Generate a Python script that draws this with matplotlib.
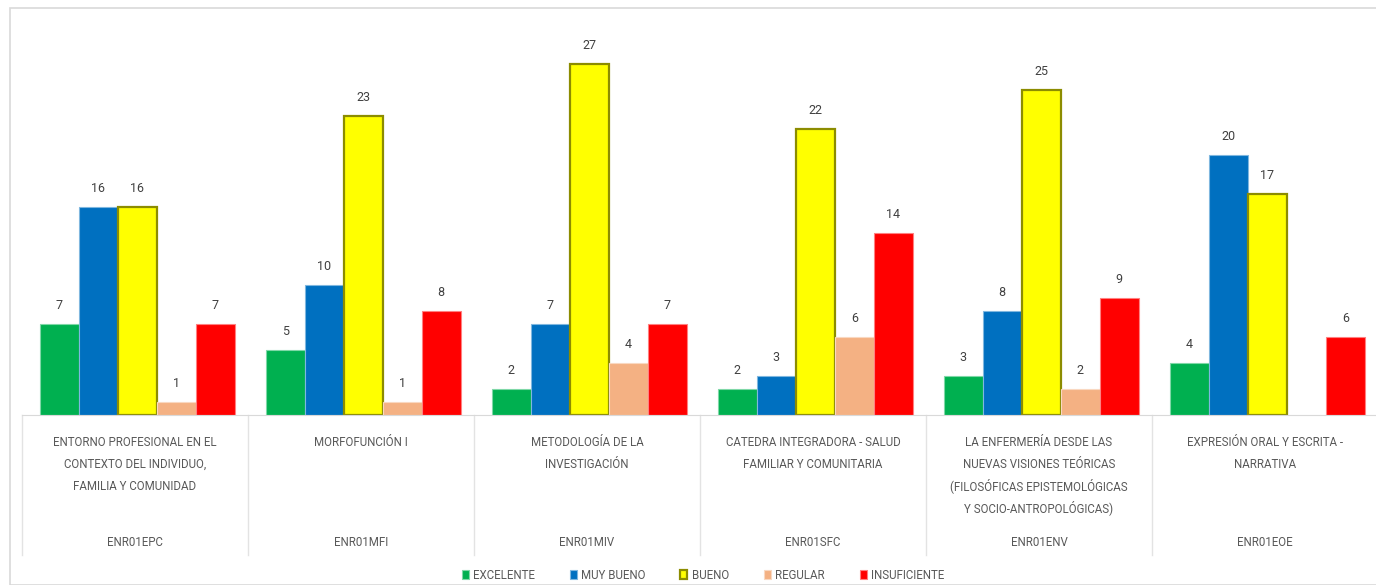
import numpy as np
import matplotlib.pyplot as plt
from matplotlib.patches import Rectangle

plt.rcParams['font.family'] = ['Roboto', 'DejaVu Sans']

cursos = ['ENTORNO PROFESIONAL EN EL\nCONTEXTO DEL INDIVIDUO,\nFAMILIA Y COMUNIDAD',
          'MORFOFUNCIÓN I',
          'METODOLOGÍA DE LA\nINVESTIGACIÓN',
          'CATEDRA INTEGRADORA - SALUD\nFAMILIAR Y COMUNITARIA',
          'LA ENFERMERÍA DESDE LAS\nNUEVAS VISIONES TEÓRICAS\n(FILOSÓFICAS EPISTEMOLÓGICAS\nY SOCIO-ANTROPOLÓGICAS)',
          'EXPRESIÓN ORAL Y ESCRITA -\nNARRATIVA']
codigos = ['ENR01EPC', 'ENR01MFI', 'ENR01MIV', 'ENR01SFC', 'ENR01ENV', 'ENR01EOE']

series = ['EXCELENTE', 'MUY BUENO', 'BUENO', 'REGULAR', 'INSUFICIENTE']
excelente = [7, 5, 2, 2, 3, 4]
muy_bueno = [16, 10, 7, 3, 8, 20]
bueno = [16, 23, 27, 22, 25, 17]
regular = [1, 1, 4, 6, 2, None]
insuficiente = [7, 8, 7, 14, 9, 6]

colores = ['#00B050', '#0070C0', '#FFFF00', '#F4B183', '#FF0000']
bordes = ['#7fd8a7', '#7fb7df', '#8c8c00', '#f9d8c1', '#ff8080']

fig = plt.figure(figsize=(13.76, 5.85), dpi=100)
ax = fig.add_axes([22 / 1376, 170 / 585, 1356 / 1376, 390 / 585])

# borde del grafico
fig.patches.append(Rectangle((10 / 1376, 0), 1.0, 577 / 585, transform=fig.transFigure,
                             fill=False, edgecolor='#d9d9d9', linewidth=1.2))

x = np.arange(len(cursos))
w = 0.1726
datos = [excelente, muy_bueno, bueno, regular, insuficiente]
for i, (nombre, vals) in enumerate(zip(series, datos)):
    v = np.array([np.nan if a is None else a for a in vals], dtype=float)
    pos = x + (i - 2) * w + 0.01
    lw = 1.6 if nombre == 'BUENO' else 0.8
    ax.bar(pos, v, width=w, color=colores[i], edgecolor=bordes[i], linewidth=lw, label=nombre)
    for px, val in zip(pos, vals):
        if val is None:
            continue
        ax.text(px, val + 0.9, str(val), ha='center', va='bottom', fontsize=9, color='#404040')

ax.set_xlim(-0.5, len(cursos) - 0.5)
ax.set_ylim(0, 30)
ax.set_yticks([])
ax.set_xticks([])
for s in ['top', 'right', 'left']:
    ax.spines[s].set_visible(False)
ax.spines['bottom'].set_color('#d9d9d9')

# etiquetas de categorias en dos niveles (una linea cada 22 px)
tr = ax.get_xaxis_transform()
for i in range(len(cursos)):
    for k, linea in enumerate(cursos[i].split('\n')):
        ax.text(i, -(27 + 22 * k) / 390, linea, transform=tr, ha='center', va='center',
                fontsize=8.3, color='#595959')
    ax.text(i, -0.328, codigos[i], transform=tr, ha='center', va='center', fontsize=8.3,
            color='#595959')
for b in np.arange(-0.5, len(cursos), 1.0):
    ax.plot([b, b], [0, -0.36], transform=tr, color='#e3e3e3', linewidth=1, clip_on=False)

fig.legend(loc='lower center', bbox_to_anchor=(0.511, -0.012), ncol=5, frameon=False,
           fontsize=8.3, handlelength=0.6, handleheight=0.8, handletextpad=0.4,
           columnspacing=3.0, labelcolor='#595959')

fig.savefig('out.png', dpi=100)
